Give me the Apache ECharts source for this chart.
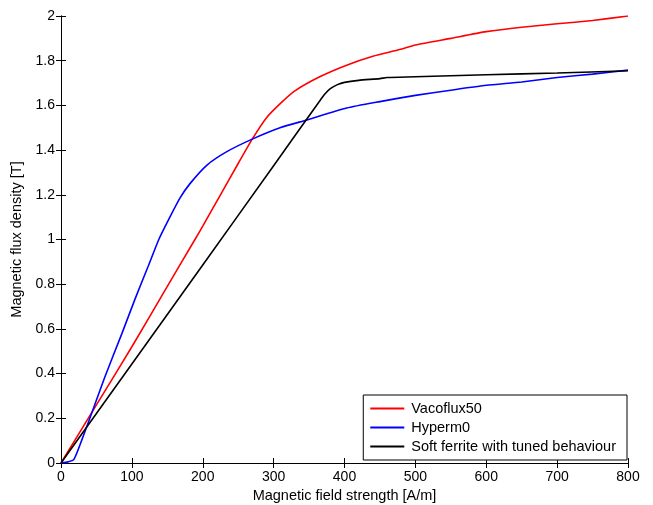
<!DOCTYPE html>
<html>
<head>
    <meta charset="utf-8"/>
    <title>B-H curves</title>
    <script src="https://cdn.jsdelivr.net/npm/echarts@6/dist/echarts.min.js"></script>
    <style>
        html, body { margin: 0; padding: 0; background: #fff; }
        #chart { width: 653px; height: 505px; }
    </style>
</head>
<body>
<div id="chart"></div>
<script type="text/javascript">
    // 数据点 [H (A/m), B (T)]
    var seriesNames = ['Vacoflux50', 'Hyperm0', 'Soft ferrite with tuned behaviour'];

    var vacoflux50 = [
        [0, 0], [50, 0.26], [100, 0.52], [150, 0.79], [189, 1.0], [200, 1.06],
        [225, 1.2], [250, 1.34], [270, 1.45], [290, 1.545], [310, 1.61],
        [330, 1.665], [365, 1.728], [403, 1.78], [440, 1.82], [478, 1.85],
        [500, 1.87], [550, 1.9], [600, 1.93], [650, 1.95], [700, 1.965],
        [750, 1.98], [800, 2.0]
    ];

    var hyperm0 = [
        [0, 0], [10, 0.005], [18, 0.015], [29, 0.1], [43, 0.22], [62, 0.386],
        [86, 0.58], [104, 0.73], [123, 0.88], [138, 1.0], [152, 1.09],
        [168, 1.186], [182, 1.25], [206, 1.333], [234, 1.393], [269, 1.448],
        [309, 1.5], [347, 1.535], [403, 1.588], [450, 1.617], [500, 1.645],
        [550, 1.668], [600, 1.69], [650, 1.705], [700, 1.725], [750, 1.74],
        [800, 1.758]
    ];

    var softFerrite = [
        [0, 0], [100, 0.443], [200, 0.886], [300, 1.33], [365, 1.62],
        [372, 1.65], [380, 1.675], [390, 1.693], [400, 1.703], [420, 1.712],
        [450, 1.72], [460, 1.725], [500, 1.728], [600, 1.737], [700, 1.745],
        [800, 1.755]
    ];

    var lineColors = ['#ff0000', '#0000ff', '#000000'];

    var chart = echarts.init(document.getElementById('chart'));
    var font = 'Liberation Sans, Arial, sans-serif';

    var frameAxis = {
        axisLine: { show: true, lineStyle: { color: '#000', width: 1 } },
        axisTick: { show: true, inside: true, length: 5, lineStyle: { color: '#000' } },
        splitLine: { show: false }
    };

    var option = {
        animation: false,
        textStyle: { fontFamily: font },
        grid: { left: 61, right: 25, top: 16, bottom: 42, outerBoundsMode: 'none', containLabel: false },
        legend: {
            orient: 'vertical',
            right: 26,
            top: 395,
            data: seriesNames,
            icon: 'rect',
            backgroundColor: '#fff',
            borderColor: '#000',
            borderWidth: 1,
            borderRadius: 0,
            padding: [6, 11, 6, 7],
            itemGap: 4,
            itemWidth: 34,
            itemHeight: 2,
            textStyle: { fontSize: 14.5, color: '#000', fontFamily: font, padding: [0, 0, 0, 2] }
        },
        xAxis: [
            Object.assign({
                type: 'value', min: 0, max: 800, interval: 100,
                name: 'Magnetic field strength [A/m]',
                nameLocation: 'middle', nameGap: 17,
                nameTextStyle: { fontSize: 14.5, color: '#000' },
                axisLabel: { fontSize: 14, color: '#000', margin: 7 }
            }, frameAxis),
            Object.assign({
                type: 'value', min: 0, max: 800, interval: 100, position: 'top',
                axisLabel: { show: false }
            }, frameAxis)
        ],
        yAxis: [
            Object.assign({
                type: 'value', min: 0, max: 2, interval: 0.2,
                name: 'Magnetic flux density [T]',
                nameLocation: 'middle', nameGap: 28,
                nameTextStyle: { fontSize: 14.5, color: '#000' },
                axisLabel: { fontSize: 14, color: '#000', margin: 6 }
            }, frameAxis),
            Object.assign({
                type: 'value', min: 0, max: 2, interval: 0.2, position: 'right',
                axisLabel: { show: false }
            }, frameAxis)
        ],
        series: [
            { name: seriesNames[0], data: vacoflux50, color: lineColors[0] },
            { name: seriesNames[1], data: hyperm0, color: lineColors[1] },
            { name: seriesNames[2], data: softFerrite, color: lineColors[2] }
        ].map(function (s) {
            return {
                name: s.name,
                type: 'line',
                xAxisIndex: 0,
                yAxisIndex: 0,
                symbol: 'none',
                smooth: 0.2,
                data: s.data,
                lineStyle: { color: s.color, width: 1.6 },
                itemStyle: { color: s.color }
            };
        })
    };

    chart.setOption(option);
</script>
</body>
</html>
